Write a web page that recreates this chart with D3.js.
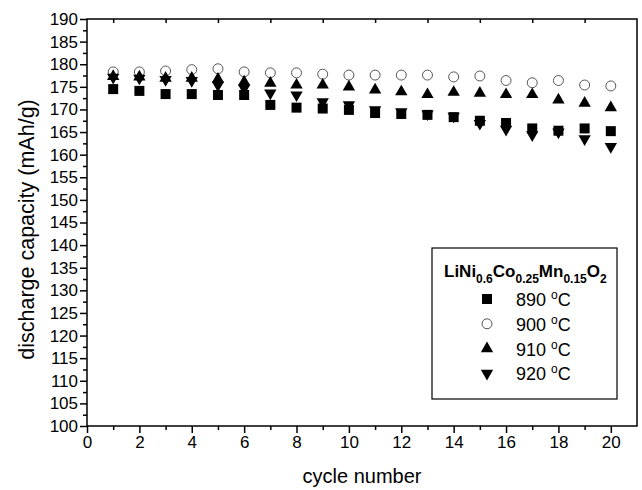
<!DOCTYPE html>
<html>
<head>
<meta charset="utf-8">
<script src="https://cdn.jsdelivr.net/npm/d3@7"></script>
<style>
  body { margin: 0; background: #fff; }
  svg { font-family: Arial, "Liberation Sans", sans-serif; }
</style>
</head>
<body>
<div id="chart"></div>
<script>
// cycle numbers
var cycles = d3.range(1, 21);

// discharge capacity (mAh/g) per sintering temperature
var cap890 = [174.5, 174.1, 173.4, 173.4, 173.2, 173.2, 171.0, 170.4, 170.2, 169.9,
              169.2, 169.0, 168.8, 168.3, 167.5, 167.0, 165.8, 165.3, 165.8, 165.2];
var cap900 = [178.3, 178.3, 178.5, 178.8, 179.0, 178.3, 178.1, 178.1, 177.8, 177.6,
              177.6, 177.6, 177.6, 177.2, 177.4, 176.4, 175.9, 176.4, 175.4, 175.2];
var cap910 = [177.3, 177.2, 176.9, 176.9, 176.7, 176.1, 175.8, 175.4, 175.4, 175.0,
              174.3, 173.9, 173.3, 173.8, 173.6, 173.3, 173.3, 172.1, 171.4, 170.4];
var cap920 = [177.1, 176.9, 176.6, 176.4, 175.4, 174.7, 173.6, 173.2, 171.7, 171.0,
              169.9, 169.5, 169.0, 168.5, 166.9, 165.6, 164.4, 165.0, 163.5, 161.8];

var seriesNames = ["890", "900", "910", "920"];

var yTicks = d3.range(100, 191, 5);
var xTicks = d3.range(0, 21, 2);

var W = 642, H = 490;
var plotL = 87, plotR = 637, plotT = 19, plotB = 426;

var svg = d3.select("#chart").append("svg")
    .attr("width", W)
    .attr("height", H);

var x = d3.scaleLinear().domain([0, 21]).range([plotL, plotR]);
var y = d3.scaleLinear().domain([100, 190]).range([plotB, plotT]);

// frame
svg.append("rect")
    .attr("x", plotL)
    .attr("y", plotT)
    .attr("width", plotR - plotL)
    .attr("height", plotB - plotT)
    .attr("fill", "none")
    .attr("stroke", "#000")
    .attr("stroke-width", 1.5);

// bottom axis: majors labelled, minor ticks at odd cycles
svg.append("g")
    .attr("transform", "translate(0," + plotB + ")")
    .call(d3.axisBottom(x).tickValues(xTicks).tickSize(7).tickPadding(3).tickFormat(d3.format("d")));
svg.append("g")
    .attr("transform", "translate(0," + plotB + ")")
    .call(d3.axisBottom(x).tickValues(d3.range(1, 21, 2)).tickSize(4).tickFormat(""));

// left axis
svg.append("g")
    .attr("transform", "translate(" + plotL + ",0)")
    .call(d3.axisLeft(y).tickValues(yTicks).tickSize(7).tickPadding(2).tickFormat(d3.format("d")));
svg.append("g")
    .attr("transform", "translate(" + plotL + ",0)")
    .call(d3.axisLeft(y).tickValues(d3.range(102.5, 190, 5)).tickSize(4).tickFormat(""));

// top axis: short inward ticks at odd cycles
svg.append("g")
    .attr("transform", "translate(0," + plotT + ")")
    .call(d3.axisTop(x).tickValues(d3.range(1, 21, 2)).tickSize(-4).tickFormat(""));

svg.selectAll(".domain").attr("stroke", "none");
svg.selectAll(".tick line").attr("stroke", "#000").attr("stroke-width", 1.5);
svg.selectAll(".tick text")
    .attr("fill", "#000")
    .style("font-size", "17px")
    .style("font-family", "Arial, 'Liberation Sans', sans-serif");

// axis titles
svg.append("text")
    .attr("x", (plotL + plotR) / 2)
    .attr("y", 483)
    .attr("text-anchor", "middle")
    .style("font-size", "20px")
    .text("cycle number");

svg.append("text")
    .attr("transform", "translate(34," + ((plotT + plotB) / 2 + 7) + ") rotate(-90)")
    .attr("text-anchor", "middle")
    .style("font-size", "21.5px")
    .text("discharge capacity (mAh/g)");

// markers
var symSquare = d3.symbol().type(d3.symbolSquare).size(100);
var symCircle = d3.symbol().type(d3.symbolCircle).size(78);
var symTri = d3.symbol().type(d3.symbolTriangle).size(66);

var series = [
    {name: seriesNames[0], values: cap890, path: symSquare(), rot: 0, fill: "#000", stroke: "none"},
    {name: seriesNames[1], values: cap900, path: symCircle(), rot: 0, fill: "#fff", stroke: "#555"},
    {name: seriesNames[2], values: cap910, path: symTri(), rot: 0, fill: "#000", stroke: "none"},
    {name: seriesNames[3], values: cap920, path: symTri(), rot: 180, fill: "#000", stroke: "none"}
];

series.forEach(function(s) {
    svg.append("g").selectAll("path")
        .data(s.values)
        .enter()
        .append("path")
        .attr("d", s.path)
        .attr("transform", function(d, i) {
            return "translate(" + x(cycles[i]) + "," + y(d) + ") rotate(" + s.rot + ")";
        })
        .attr("fill", s.fill)
        .attr("stroke", s.stroke)
        .attr("stroke-width", 1);
});

// legend
var lg = svg.append("g");
lg.append("rect")
    .attr("x", 432)
    .attr("y", 248)
    .attr("width", 185)
    .attr("height", 151)
    .attr("fill", "#fff")
    .attr("stroke", "#000")
    .attr("stroke-width", 1.2);

var title = lg.append("text")
    .attr("x", 444)
    .attr("y", 277)
    .style("font-size", "17px")
    .style("font-weight", "bold");
var parts = [["LiNi", 0], ["0.6", 1], ["Co", 0], ["0.25", 1], ["Mn", 0], ["0.15", 1], ["O", 0], ["2", 1]];
var prevSub = 0;
parts.forEach(function(p) {
    title.append("tspan")
        .attr("dy", (p[1] - prevSub) * 6)
        .style("font-size", p[1] ? "12px" : "17px")
        .text(p[0]);
    prevSub = p[1];
});

series.forEach(function(s, i) {
    var cy = 299 + i * 24.8;
    lg.append("path")
        .attr("d", s.path)
        .attr("transform", "translate(487," + cy + ") rotate(" + s.rot + ")")
        .attr("fill", s.fill)
        .attr("stroke", s.stroke)
        .attr("stroke-width", 1);
    var t = lg.append("text")
        .attr("x", 516)
        .attr("y", cy + 7)
        .style("font-size", "18px");
    t.append("tspan").text(s.name + " ");
    t.append("tspan").attr("dy", -7).style("font-size", "12px").text("o");
    t.append("tspan").attr("dy", 7).text("C");
});
</script>
</body>
</html>
